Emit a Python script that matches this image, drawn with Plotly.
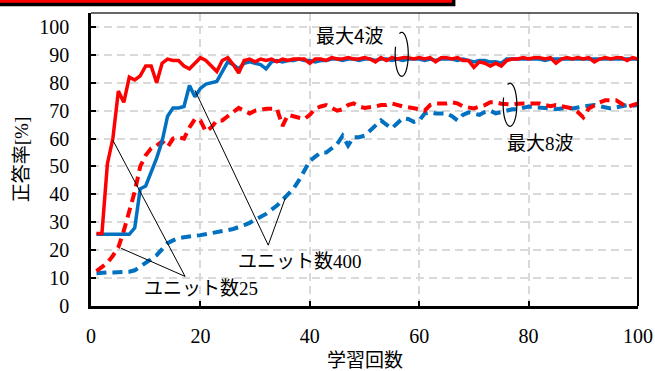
import numpy as np
import plotly.graph_objects as go

# ---- data ----
epochs = list(range(1, 101))

max4_units25 = [26, 26, 51, 60, 77, 73, 82, 81, 82.5, 86,
                86, 80, 87, 88.5, 88, 88, 86, 85, 87, 89,
                88, 86, 84, 88, 89, 86.5, 83.5, 88, 88.5, 87.5,
                88.5, 88, 88.5, 87.5, 88.5, 88, 88.5, 88.5, 88.5, 87,
                88.5, 88.5, 88, 89, 88.5, 88.5, 89, 88.5, 88.5, 89,
                88.5, 87.5, 89, 88, 89, 88.5, 89, 89, 88.5, 89,
                88.5, 89, 87.5, 89, 89, 88.5, 89, 88, 88, 85.5,
                87.5, 87, 86, 87, 86, 88, 88.5, 88.5, 89, 88.5,
                89, 89, 88.5, 89, 87, 88.5, 89, 88.5, 89, 88.5,
                89, 87.5, 88.5, 89, 88.5, 89, 89, 88, 89, 88.5]

max4_units400 = [25.7, 25.7, 25.7, 25.7, 25.7, 25.7, 25.7, 28, 42, 43,
                 48, 53, 59, 68, 71, 71, 71.5, 79, 75, 78,
                 79.5, 80, 80.5, 84, 87.5, 86.5, 85, 87, 87.5, 87,
                 86.5, 85, 87.5, 88, 87.5, 88, 88, 88.5, 88, 88,
                 87.5, 88, 88, 88.5, 88.5, 88, 88.5, 88.5, 88, 88.5,
                 88.5, 88, 88.5, 88.5, 88, 88.5, 88, 88.5, 88.5, 88.5,
                 88, 88.5, 88, 88.5, 88.5, 88.5, 88, 88.5, 88, 87.5,
                 88, 88, 87.4, 87.5, 87, 88.5, 88.5, 88.5, 88.5, 88.5,
                 88.5, 88.5, 88, 88.5, 88.5, 88.5, 88.5, 88.5, 88.5, 88.5,
                 88.5, 88.5, 88.5, 88.5, 88.5, 88.5, 88.5, 88.5, 88.5, 88.5]

max8_units25 = [12.5, 14, 15.5, 18, 21, 27, 34, 41, 50, 54,
                56.5, 57.5, 59, 57, 60, 60.5, 60, 64, 67, 66.5,
                62.5, 64, 66.5, 66.5, 68, 69.5, 71, 70, 69, 70,
                70.5, 70.7, 70.7, 70.7, 64.5, 68.5, 68, 67.6, 67, 68.5,
                70.7, 71.5, 72, 71, 70, 70.5, 72, 72.6, 71.5, 71,
                71.2, 71.5, 72, 72, 72.6, 72, 71.5, 71.2, 71, 70.5,
                70, 72, 72.6, 72.6, 72.6, 73, 72.6, 71.5, 71, 70.8,
                71.5, 72, 73, 73, 72.5, 72.2, 72.2, 72.5, 72.6, 72.6,
                72.6, 72.6, 72, 71.6, 72, 71.5, 71, 70.8, 69.5, 67.6,
                70.8, 72, 73, 73.7, 73.7, 73.7, 72.5, 71.2, 72, 72.6]

max8_units400 = [11.7, 12, 12, 12, 12, 12, 12.3, 12.8, 14, 15.3,
                 16.8, 18.2, 20.5, 22.5, 23.5, 24.3, 24.6, 25, 25.2, 25.4,
                 25.7, 26, 26.3, 26.7, 27.2, 27.6, 28.2, 29, 29.8, 30.8,
                 32, 33, 34.5, 36, 38, 40, 42, 45, 48.5, 52,
                 53.5, 55, 55, 56.5, 58, 61, 57.5, 60.5, 60.5, 61,
                 63, 64.5, 66.5, 65, 63.7, 65.5, 67.3, 67, 66, 66.5,
                 69, 69.4, 69, 69, 69, 68, 66.5, 68.5, 69.4, 69,
                 68.5, 69.5, 70, 69, 69.5, 70, 70.5, 70.5, 71, 71.5,
                 71.2, 71.2, 71, 70.8, 70.5, 70.8, 71, 70.8, 71.2, 71.5,
                 71.8, 72, 71.5, 71, 70.8, 71.2, 71.5, 72, 71.8, 72]

x_ticks = [0, 20, 40, 60, 80, 100]
y_ticks = [0, 10, 20, 30, 40, 50, 60, 70, 80, 90, 100]

RED = "#FF0000"
BLUE = "#0070C0"
DASH = "10px,6px"
FONT = "Liberation Serif, Noto Sans CJK JP, serif"

fig = go.Figure()
fig.add_trace(go.Scatter(x=epochs, y=max8_units400, mode="lines",
                         line=dict(color=BLUE, width=4, dash=DASH)))
fig.add_trace(go.Scatter(x=epochs, y=max8_units25, mode="lines",
                         line=dict(color=RED, width=4, dash=DASH)))
fig.add_trace(go.Scatter(x=epochs, y=max4_units400, mode="lines",
                         line=dict(color=BLUE, width=3.5)))
fig.add_trace(go.Scatter(x=epochs, y=max4_units25, mode="lines",
                         line=dict(color=RED, width=3.5)))

shapes = []
# pointer lines
for (x0, y0, x1, y1) in [(4.0, 59.4, 17.2, 10.6), (5.5, 20.7, 17.2, 10.6),
                         (19.0, 77.3, 32.4, 21.8), (35.5, 38.6, 32.4, 21.8)]:
    shapes.append(dict(type="line", xref="x", yref="y", x0=x0, y0=y0, x1=x1, y1=y1,
                       line=dict(color="black", width=1)))

# bracket ellipses (open arcs)
def arc(cx, cy, rx, ry, a0, a1, n=40):
    t = np.linspace(np.radians(a0), np.radians(a1), n)
    xs = cx + rx * np.cos(t)
    ys = cy + ry * np.sin(t)
    return "M " + " L ".join(f"{a:.3f},{b:.3f}" for a, b in zip(xs, ys))

shapes.append(dict(type="path", xref="x", yref="y",
                   path=arc(56.8, 90.2, 1.2, 7.9, 110, -200),
                   line=dict(color="black", width=1.2)))
shapes.append(dict(type="path", xref="x", yref="y",
                   path=arc(76.6, 72.1, 1.25, 7.7, 110, -200),
                   line=dict(color="black", width=1.2)))

# top/right frame
shapes.append(dict(type="line", xref="paper", yref="paper", x0=0, x1=1, y0=1, y1=1,
                   line=dict(color="#333333", width=1.3)))
shapes.append(dict(type="line", xref="paper", yref="paper", x0=1, x1=1, y0=0, y1=1,
                   line=dict(color="black", width=2)))
# red banner at top
shapes.append(dict(type="rect", xref="paper", yref="paper",
                   x0=-0.3, x1=0.663, y0=1.029, y1=1.2,
                   fillcolor=RED, line=dict(color="black", width=3.5)))

ANN = 19
annotations = [
    dict(x=20.1, y=6.3, text="ユニット数25", showarrow=False, xref="x", yref="y",
         font=dict(family=FONT, size=ANN, color="black")),
    dict(x=38.2, y=16, text="ユニット数400", showarrow=False, xref="x", yref="y",
         font=dict(family=FONT, size=ANN, color="black")),
    dict(x=47.3, y=97.4, text="最大4波", showarrow=False, xref="x", yref="y",
         font=dict(family="Noto Sans CJK JP", size=ANN, color="black")),
    dict(x=82.1, y=58.3, text="最大8波", showarrow=False, xref="x", yref="y",
         font=dict(family=FONT, size=ANN, color="black")),
    dict(x=0.5, y=-0.178, text="学習回数", showarrow=False, xref="paper", yref="paper",
         xanchor="center", yanchor="middle",
         font=dict(family="Noto Sans CJK JP", size=19, color="black")),
]

fig.update_layout(
    width=655, height=371,
    margin=dict(l=91, r=17, t=13, b=65, autoexpand=False),
    paper_bgcolor="white", plot_bgcolor="white",
    showlegend=False,
    shapes=shapes, annotations=annotations,
    font=dict(family=FONT, color="black"),
)
fig.update_xaxes(
    range=[0, 100], tickvals=x_ticks, ticktext=[str(v) for v in x_ticks],
    showline=True, linecolor="black", linewidth=2.5,
    ticks="inside", ticklen=5, tickwidth=2, tickcolor="black",
    showgrid=True, gridcolor="#D9D9D9", gridwidth=1.5, griddash="8px,5px",
    zeroline=False, ticklabelstandoff=10,
    tickfont=dict(family="Liberation Serif", size=20, color="black"),
)
fig.update_yaxes(
    range=[0, 105], tickvals=y_ticks, ticktext=[str(v) for v in y_ticks],
    showline=True, linecolor="black", linewidth=2.5,
    ticks="inside", ticklen=5, tickwidth=2, tickcolor="black",
    showgrid=True, gridcolor="#D9D9D9", gridwidth=1.5, griddash="8px,5px",
    zeroline=False, ticklabelstandoff=15,
    tickfont=dict(family="Liberation Serif", size=20, color="black"),
    title=dict(text="正答率[%]", font=dict(family=FONT, size=19, color="black"),
               standoff=6),
)

fig.write_html("out.html", config={"displayModeBar": False},
               post_script="document.body.style.margin='0';document.body.style.overflow='hidden';")
